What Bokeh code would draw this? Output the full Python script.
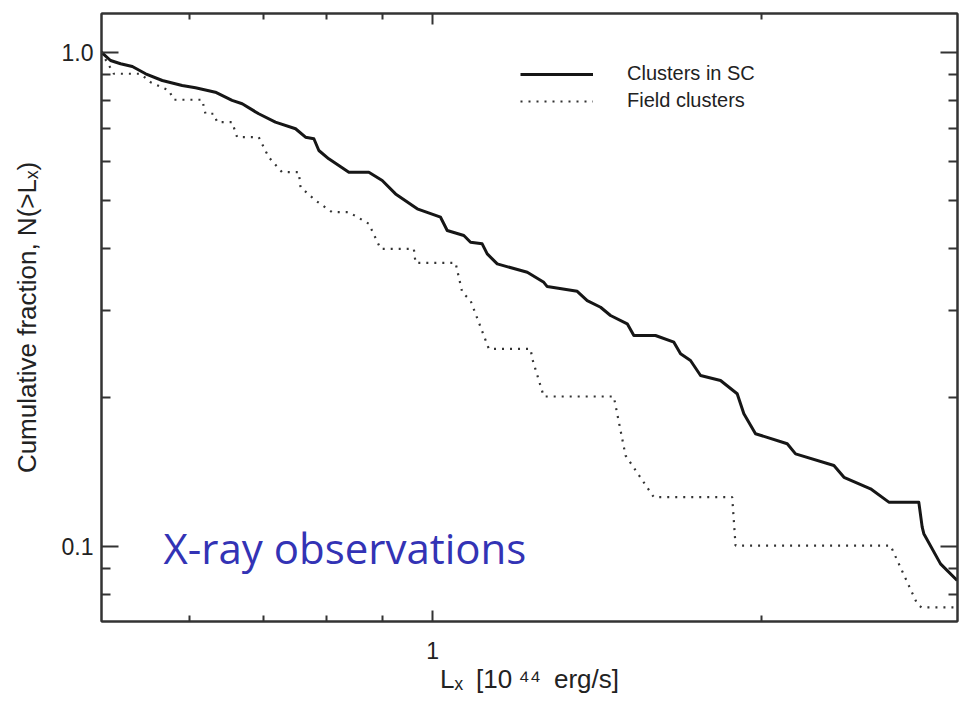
from bokeh.plotting import figure
from bokeh.models import (Range1d, LogAxis, FixedTicker, CustomJSTickFormatter,
                          Label, Legend, LegendItem)
from bokeh.embed import file_html
from bokeh.resources import INLINE

# ---- data ----
sc_lx = [0.498, 0.5078, 0.5186, 0.5316, 0.5467, 0.5662, 0.5904, 0.6072, 0.6331,
         0.6558, 0.6699, 0.6936, 0.7184, 0.7495, 0.7654, 0.7790, 0.7872, 0.8038,
         0.8385, 0.8745, 0.8995, 0.9251, 0.9683, 1.0170, 1.0314, 1.0681, 1.0833,
         1.1101, 1.1220, 1.1459, 1.2207, 1.2639, 1.2730, 1.3560, 1.3848, 1.4243,
         1.4544, 1.5066, 1.5276, 1.5988, 1.6619, 1.6854, 1.7211, 1.7579, 1.8334,
         1.8988, 1.9257, 1.9734, 2.1098, 2.1470, 2.3275, 2.3773, 2.5141, 2.6127,
         2.7828, 2.8028, 2.8124, 2.9131, 3.0170]
sc_n = [1.0, 0.962, 0.9474, 0.9355, 0.9043, 0.8764, 0.8560, 0.8470, 0.8299,
        0.7986, 0.7863, 0.7505, 0.7216, 0.6998, 0.6729, 0.6679, 0.6324, 0.6083,
        0.5715, 0.5715, 0.5498, 0.5166, 0.4819, 0.4634, 0.4355, 0.4255, 0.4124,
        0.4093, 0.3906, 0.3728, 0.3585, 0.3421, 0.3354, 0.3281, 0.3142, 0.3046,
        0.2931, 0.2819, 0.2670, 0.2670, 0.2588, 0.2451, 0.2376, 0.2216, 0.2165,
        0.2035, 0.1854, 0.1689, 0.1612, 0.1538, 0.1457, 0.1379, 0.1307, 0.1228,
        0.1228, 0.1093, 0.1060, 0.0921, 0.0852]

field_lx = [0.498, 0.5113, 0.5409, 0.5524, 0.5741, 0.5801, 0.6158, 0.6201, 0.6311,
            0.6356, 0.6558, 0.6628, 0.6936, 0.7084, 0.7286, 0.7546, 0.7574, 0.7818,
            0.8095, 0.8385, 0.8745, 0.8965, 0.9614, 0.9648, 1.0496, 1.0645, 1.0833,
            1.1258, 1.2292, 1.2336, 1.2639, 1.4645, 1.4699, 1.5012, 1.5931, 1.8789,
            1.8923, 2.6218, 2.7738, 2.7990, 3.0190]
field_n = [1.0, 0.9043, 0.9043, 0.8695, 0.8367, 0.8012, 0.8012, 0.7505, 0.7505,
           0.7216, 0.7216, 0.6729, 0.6729, 0.6130, 0.5715, 0.5715, 0.5330, 0.5009,
           0.4744, 0.4744, 0.4494, 0.3999, 0.3999, 0.3747, 0.3747, 0.3266, 0.3142,
           0.2509, 0.2509, 0.2395, 0.2009, 0.2009, 0.1927, 0.1526, 0.1257, 0.1257,
           0.1003, 0.1003, 0.0764, 0.0752, 0.0752]

x_major = [1.0]
x_minor = [0.6, 0.7, 0.8, 0.9, 2.0]
y_major = [0.1, 1.0]
y_minor = [0.08, 0.09, 0.2, 0.3, 0.4, 0.5, 0.6, 0.7, 0.8, 0.9]

series_labels = ["Clusters in SC", "Field clusters"]
x_title = "L\u2093\u2002[10\u2005\u2074\u2074\u2002erg/s]"
y_title = "Cumulative fraction, N(>L\u2093)"
note = "X-ray observations"

AX = "#333333"
TXT = "#222222"
FONT = "Liberation Sans"

p = figure(width=960, height=701, x_axis_type="log", y_axis_type="log",
           x_range=Range1d(0.4982, 3.019), y_range=Range1d(0.0704, 1.1976),
           output_backend="svg", toolbar_location=None,
           min_border_left=101, min_border_right=3, min_border_top=13,
           min_border_bottom=80)
p.grid.visible = False
p.outline_line_color = AX
p.outline_line_width = 2
p.background_fill_color = "white"
p.border_fill_color = "white"

xt = FixedTicker(ticks=x_major, minor_ticks=x_minor)
yt = FixedTicker(ticks=y_major, minor_ticks=y_minor)


def style(ax, ticker, maj, mnr, labels):
    ax.ticker = ticker
    ax.major_tick_in = maj
    ax.major_tick_out = 0
    ax.minor_tick_in = mnr
    ax.minor_tick_out = 0
    ax.axis_line_color = AX
    ax.axis_line_width = 2
    ax.major_tick_line_color = AX
    ax.minor_tick_line_color = AX
    ax.major_tick_line_width = 2
    ax.minor_tick_line_width = 2
    if labels:
        ax.major_label_text_font = FONT
        ax.major_label_text_font_size = "23px"
        ax.major_label_text_color = TXT
        ax.axis_label_text_font = FONT
        ax.axis_label_text_font_style = "normal"
        ax.axis_label_text_color = TXT
    else:
        ax.major_label_text_font_size = "1px"
        ax.major_label_text_alpha = 0
        ax.major_label_standoff = 0


xa = p.xaxis[0]
style(xa, xt, 11, 6, True)
xa.formatter = CustomJSTickFormatter(code="return String(tick)")
xa.major_label_standoff = 20
xa.axis_label = x_title
xa.axis_label_text_font_size = "26px"
xa.axis_label_standoff = 2

ya = p.yaxis[0]
style(ya, yt, 17, 9, True)
ya.formatter = CustomJSTickFormatter(code="return tick.toFixed(1)")
ya.major_label_standoff = 8
ya.axis_label = y_title
ya.axis_label_text_font_size = "26px"
ya.axis_label_standoff = 17

top = LogAxis()
style(top, xt, 11, 6, False)
p.add_layout(top, "above")
right = LogAxis()
style(right, yt, 17, 9, False)
p.add_layout(right, "right")

r1 = p.line(sc_lx, sc_n, line_color="#161616", line_width=3, line_join="round")
r2 = p.line(field_lx, field_n, line_color="#333333", line_width=2.2,
            line_dash="2 6")

legend = Legend(items=[LegendItem(label=series_labels[0], renderers=[r1]),
                       LegendItem(label=series_labels[1], renderers=[r2])],
                location=(419, 509), glyph_width=73, glyph_height=20,
                label_height=20, label_standoff=34, spacing=4, padding=0,
                margin=0, border_line_color=None, background_fill_alpha=0,
                label_text_font=FONT, label_text_font_size="20px",
                label_text_color=TXT)
p.add_layout(legend)

p.add_layout(Label(x=62, y=74, x_units="screen", y_units="screen",
                   text=note, text_font="Open Sans",
                   text_font_size="42px", text_color="#3333B5",
                   text_baseline="middle"))

open("out.html", "w").write(file_html(p, INLINE))
